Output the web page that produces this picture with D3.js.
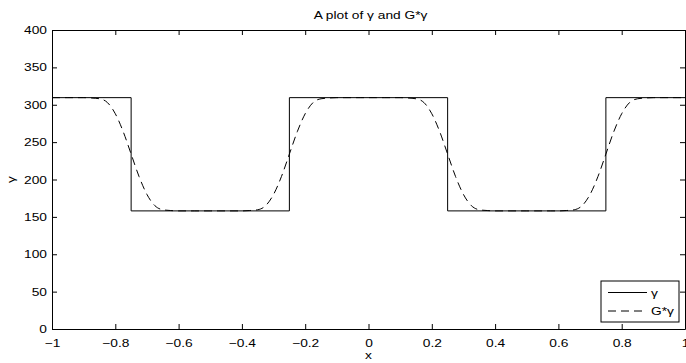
<!DOCTYPE html>
<html>
<head>
<meta charset="utf-8">
<script src="https://cdn.jsdelivr.net/npm/d3@7"></script>
<style>
  body { margin: 0; background: #fff; }
  svg text { font-family: "Liberation Sans", Arial, sans-serif; font-size: 11px; fill: #000; }
</style>
</head>
<body>
<svg id="chart" width="686" height="363"></svg>
<script>
// step function gamma (breakpoints + level after each breakpoint)
const stepX = [-1, -0.75, -0.25, 0.25, 0.75, 1];
const stepY = [309.5, 158, 309.5, 158, 309.5, 309.5];

// smoothed G*gamma, every 0.025
const smoothX = d3.range(81).map(i => -1 + i * 0.025); // grid of x positions only
const smoothY = [
  309.5, 309.5, 309.5, 309.5, 309.5, 309, 308, 303, 288, 264,   // -1 .. -0.775
  234, 204, 180, 165, 159.5, 158.5, 158, 158, 158, 158,         // -0.75 .. -0.525
  158, 158, 158, 158, 158, 158.5, 159.5, 165, 180, 204,         // -0.5 .. -0.275
  234, 264, 288, 303, 308, 309, 309.5, 309.5, 309.5, 309.5,     // -0.25 .. -0.025
  309.5, 309.5, 309.5, 309.5, 309.5, 309, 308, 303, 288, 264,   // 0 .. 0.225
  234, 204, 180, 165, 159.5, 158.5, 158, 158, 158, 158,         // 0.25 .. 0.475
  158, 158, 158, 158, 158, 158.5, 159.5, 165, 180, 204,         // 0.5 .. 0.725
  234, 264, 288, 303, 308, 309, 309.5, 309.5, 309.5, 309.5,     // 0.75 .. 0.975
  309.5                                                          // 1
];

const xTicks = [-1, -0.8, -0.6, -0.4, -0.2, 0, 0.2, 0.4, 0.6, 0.8, 1];
const yTicks = [0, 50, 100, 150, 200, 250, 300, 350, 400];

const margin = { top: 30, right: 1, bottom: 34, left: 52 };
const width = 686 - margin.left - margin.right;
const height = 363 - margin.top - margin.bottom;

// the reference text is drawn a bit wide, so stretch glyphs horizontally
const SX = 1.25;

const svg = d3.select("#chart");
const g = svg.append("g").attr("transform", `translate(${margin.left},${margin.top})`);

const x = d3.scaleLinear().domain([-1, 1]).range([0, width]);
const y = d3.scaleLinear().domain([0, 400]).range([height, 0]);

const fmt = d => (d < 0 ? "\u2212" : "") + d3.format("")(Math.abs(+d.toFixed(1)));

// data lines
const stepLine = d3.line()
  .x(d => x(d[0]))
  .y(d => y(d[1]))
  .curve(d3.curveStepAfter);

g.append("path")
  .datum(stepX.map((v, i) => [v, stepY[i]]))
  .attr("d", stepLine)
  .attr("fill", "none")
  .attr("stroke", "#000")
  .attr("stroke-width", 1);

const smoothLine = d3.line()
  .x(d => x(d[0]))
  .y(d => y(d[1]))
  .curve(d3.curveMonotoneX);

g.append("path")
  .datum(smoothX.map((v, i) => [v, smoothY[i]]))
  .attr("d", smoothLine)
  .attr("fill", "none")
  .attr("stroke", "#000")
  .attr("stroke-width", 1)
  .attr("stroke-dasharray", "8,5");

// axes (ticks inside, mirrored on top and right)
const axisStyle = sel => {
  sel.select(".domain").attr("stroke", "#000").attr("stroke-width", 1);
  sel.selectAll(".tick line").attr("stroke", "#000");
  sel.selectAll("text")
    .attr("font-family", null)
    .attr("font-size", null)
    .attr("x", function () { return (+d3.select(this).attr("x") || 0) / SX; })
    .attr("transform", `scale(${SX},1)`);
};

g.append("g")
  .attr("transform", `translate(0,${height})`)
  .call(d3.axisBottom(x).tickValues(xTicks).tickSize(-5).tickSizeOuter(0).tickPadding(10).tickFormat(fmt))
  .call(axisStyle);

g.append("g")
  .call(d3.axisTop(x).tickValues(xTicks).tickSize(-5).tickSizeOuter(0).tickFormat(""))
  .call(axisStyle);

g.append("g")
  .call(d3.axisLeft(y).tickValues(yTicks).tickSize(-5).tickSizeOuter(0).tickPadding(5))
  .call(axisStyle);

g.append("g")
  .attr("transform", `translate(${width},0)`)
  .call(d3.axisRight(y).tickValues(yTicks).tickSize(-5).tickSizeOuter(0).tickFormat(""))
  .call(axisStyle);

// title and labels
const label = (tx, ty, txt, rot) => svg.append("text")
  .attr("transform", `translate(${tx},${ty})${rot ? " rotate(-90)" : ""} scale(${SX},1)`)
  .attr("text-anchor", "middle")
  .text(txt);

label(margin.left + width / 2 + 2, 19, "A plot of \u03b3 and G*\u03b3");
label(margin.left + width / 2, 359, "x");
label(15, margin.top + height / 2, "\u03b3", true);

// legend
const legend = svg.append("g").attr("transform", "translate(601,281)");
legend.append("rect")
  .attr("width", 78).attr("height", 41)
  .attr("fill", "#fff").attr("stroke", "#000").attr("stroke-width", 1);

const legendItems = [
  { label: "\u03b3", dash: null, y: 11.5 },
  { label: "G*\u03b3", dash: "8,5", y: 30 }
];
legendItems.forEach(item => {
  legend.append("line")
    .attr("x1", 7).attr("x2", 46)
    .attr("y1", item.y).attr("y2", item.y)
    .attr("stroke", "#000").attr("stroke-width", 1)
    .attr("stroke-dasharray", item.dash);
  legend.append("text")
    .attr("transform", `translate(50,${item.y + 4}) scale(${SX},1)`)
    .text(item.label);
});
</script>
</body>
</html>
